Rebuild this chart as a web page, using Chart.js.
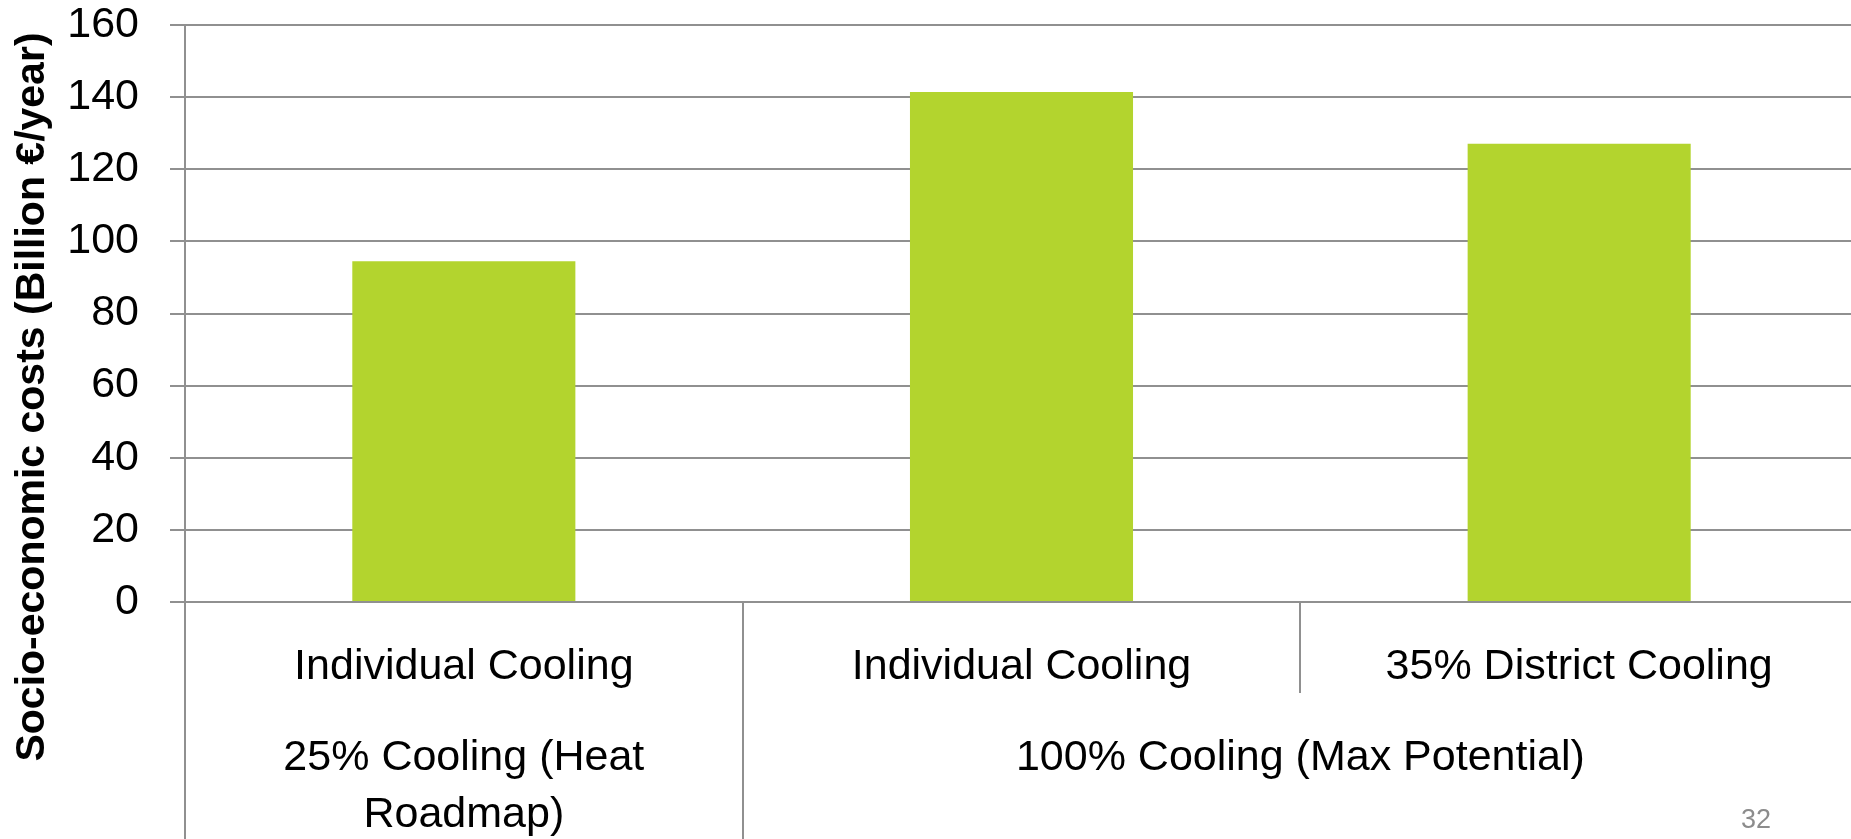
<!DOCTYPE html>
<html>
<head>
<meta charset="utf-8">
<title>Socio-economic costs of cooling scenarios</title>
<style>
  html, body { margin: 0; padding: 0; overflow: hidden; background: #ffffff; }
  canvas { display: block; }
</style>
<script src="https://cdn.jsdelivr.net/npm/chart.js@4"></script>
</head>
<body>
<canvas id="chart" width="1858" height="839"></canvas>
<script>
// ---- data ----
const categories = ['Individual Cooling', 'Individual Cooling', '35% District Cooling'];
const groupLabels = [['25% Cooling (Heat', 'Roadmap)'], ['100% Cooling (Max Potential)']];
const groupSpans = [1, 2];
const costs = [94.5, 141.4, 127.1];
const yMin = 0;
const yMax = 160;
const yStep = 20;
const yTitle = 'Socio-economic costs (Billion €/year)';
const slideNumber = '32';

// ---- styling ----
const FONT = "'Liberation Sans', Arial, sans-serif";
const LINE = '#909090';
const BAR = '#b3d42e';

Chart.defaults.font.family = FONT;
Chart.defaults.color = '#000000';

// Two-row category axis (scenario under each bar, case spanning its bars),
// the rotated value-axis title and the slide number.
const hierarchyAxis = {
  id: 'hierarchyAxis',
  afterDraw(chart) {
    const { ctx, chartArea: a, scales: { x } } = chart;
    const n = categories.length;
    const edge = i => i === 0 ? a.left
      : i === n ? a.right
      : (x.getPixelForValue(i - 1) + x.getPixelForValue(i)) / 2;

    const groupEdges = new Set([0]);
    let k = 0;
    groupSpans.forEach(s => { k += s; groupEdges.add(k); });

    ctx.save();
    ctx.strokeStyle = LINE;
    ctx.lineWidth = 2;
    for (let i = 0; i <= n; i++) {
      const px = Math.round(edge(i) - 1) + 1;
      ctx.beginPath();
      ctx.moveTo(px, a.bottom);
      ctx.lineTo(px, groupEdges.has(i) ? chart.height : 693);
      ctx.stroke();
    }

    ctx.fillStyle = '#000000';
    ctx.textAlign = 'center';
    ctx.textBaseline = 'alphabetic';
    ctx.font = `43px ${FONT}`;
    categories.forEach((c, i) => {
      ctx.fillText(c, x.getPixelForValue(i), 679);
    });

    let start = 0;
    groupLabels.forEach((lines, g) => {
      const cx = (edge(start) + edge(start + groupSpans[g])) / 2;
      lines.forEach((t, j) => ctx.fillText(t, cx, 770 + j * 57));
      start += groupSpans[g];
    });

    // value axis title
    ctx.save();
    ctx.translate(44, 397);
    ctx.rotate(-Math.PI / 2);
    ctx.font = `bold 41px ${FONT}`;
    ctx.textAlign = 'center';
    ctx.textBaseline = 'alphabetic';
    ctx.fillText(yTitle, 0, 0);
    ctx.restore();

    // slide number
    ctx.font = `27px ${FONT}`;
    ctx.fillStyle = '#8c8c8c';
    ctx.textAlign = 'right';
    ctx.fillText(slideNumber, 1771, 828);
    ctx.restore();
  }
};

new Chart(document.getElementById('chart'), {
  type: 'bar',
  data: {
    labels: categories,
    datasets: [{
      data: costs,
      backgroundColor: BAR,
      borderWidth: 0,
      barPercentage: 0.4,
      categoryPercentage: 1.0
    }]
  },
  options: {
    responsive: false,
    devicePixelRatio: 1,
    animation: false,
    layout: { padding: { top: 25, right: 0, left: 0, bottom: 0 } },
    plugins: {
      legend: { display: false },
      tooltip: { enabled: false }
    },
    scales: {
      x: {
        type: 'category',
        offset: true,
        grid: { display: false },
        border: { display: false },
        ticks: { display: false },
        afterFit(scale) { scale.height = 237; }
      },
      y: {
        min: yMin,
        max: yMax,
        ticks: {
          stepSize: yStep,
          padding: 31,
          font: { size: 43 },
          color: '#000000'
        },
        grid: {
          color: LINE,
          lineWidth: 2,
          drawTicks: true,
          tickLength: 15,
          tickColor: LINE
        },
        border: { display: true, color: LINE, width: 2 },
        afterFit(scale) {
          scale.width = 185;
          scale.paddingTop = 0;
          scale.paddingBottom = 0;
        }
      }
    }
  },
  plugins: [hierarchyAxis]
});
</script>
</body>
</html>
